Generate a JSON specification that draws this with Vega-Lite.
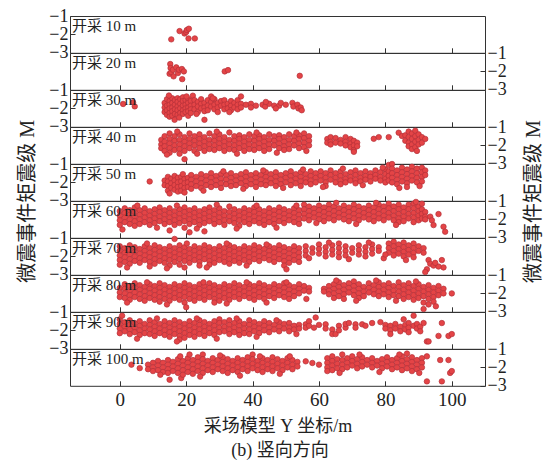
{
"$schema":"https://vega.github.io/schema/vega-lite/v6.json",
"padding":{"left":16,"top":6,"right":5,"bottom":5},
"background":"white",
"config":{
 "font":"Liberation Serif, Noto Sans CJK SC",
 "view":{"stroke":"#333","strokeWidth":1},
 "axis":{"domain":false,"grid":false,"tickSize":-5,"tickColor":"#333","labelFontSize":18,"labelColor":"#222","labelFont":"Liberation Serif","labelPadding":7,"labelOverlap":false,"labelFlush":false,"labelBound":false,"titleFont":"Liberation Serif, Noto Sans CJK SC","titleFontWeight":"normal","titleFontSize":18,"titleColor":"#222"},
 "axisX":{"labelPadding":10,"labelFontSize":19,"titlePadding":8},
 "title":{"font":"Liberation Serif, Noto Sans CJK SC","fontWeight":"normal","fontSize":18,"color":"#222"}
},
"title":{"text":"(b) 竖向方向","orient":"bottom","anchor":"middle","offset":6},
"datasets":{
"p10":[{"x":15.5,"m":-2.27},{"x":18,"m":-1.82},{"x":19.5,"m":-1.95},{"x":20,"m":-1.87},{"x":20.2,"m":-1.76},{"x":20.8,"m":-1.69},{"x":20.7,"m":-2.22},{"x":22.6,"m":-2.22}],
"p20":[{"x":15.2,"m":-1.6},{"x":15.3,"m":-1.82},{"x":15,"m":-2.13},{"x":15.5,"m":-2.05},{"x":16,"m":-1.91},{"x":16.2,"m":-2.27},{"x":17,"m":-1.78},{"x":17.5,"m":-2.09},{"x":17.8,"m":-1.91},{"x":18.7,"m":-1.87},{"x":19.3,"m":-2.0},{"x":18.8,"m":-2.42},{"x":31.6,"m":-2.0},{"x":32.6,"m":-1.93},{"x":54.2,"m":-2.24}],
"p30":[{"x":1,"m":-1.76},{"x":4,"m":-1.67},{"x":4.5,"m":-1.89},
{"x":13.5,"m":-1.7},{"x":13.5,"m":-1.95},{"x":13.5,"m":-2.2},
{"x":14.2,"m":-1.5},{"x":14.2,"m":-1.85},{"x":14.2,"m":-2.1},{"x":14.2,"m":-2.35},
{"x":15,"m":-1.6},{"x":15,"m":-1.8},{"x":15,"m":-2.0},{"x":15,"m":-2.25},{"x":15,"m":-2.45},
{"x":15.8,"m":-1.45},{"x":15.8,"m":-1.7},{"x":15.8,"m":-1.95},{"x":15.8,"m":-2.15},{"x":15.8,"m":-2.4},
{"x":16.6,"m":-1.55},{"x":16.6,"m":-1.8},{"x":16.6,"m":-2.05},{"x":16.6,"m":-2.3},{"x":16.5,"m":-2.62},
{"x":17.4,"m":-1.45},{"x":17.4,"m":-1.65},{"x":17.4,"m":-1.9},{"x":17.4,"m":-2.1},{"x":17.4,"m":-2.35},
{"x":18.2,"m":-1.5},{"x":18.2,"m":-1.75},{"x":18.2,"m":-2.0},{"x":18.2,"m":-2.25},
{"x":19,"m":-1.4},{"x":19,"m":-1.6},{"x":19,"m":-1.85},{"x":19,"m":-2.1},{"x":19,"m":-2.3},
{"x":19.8,"m":-1.55},{"x":19.8,"m":-1.8},{"x":19.8,"m":-2.0},{"x":19.8,"m":-2.2},
{"x":20.6,"m":-1.5},{"x":20.6,"m":-1.7},{"x":20.6,"m":-1.95},{"x":20.6,"m":-2.15},{"x":20.6,"m":-2.4},
{"x":21.4,"m":-1.6},{"x":21.4,"m":-1.85},{"x":21.4,"m":-2.05},{"x":21.4,"m":-2.25},
{"x":22,"m":-1.31},{"x":22.5,"m":-1.55},{"x":22.5,"m":-1.8},{"x":22.5,"m":-2.05},
{"x":23.5,"m":-1.65},{"x":23.5,"m":-1.9},{"x":23.5,"m":-2.2},
{"x":24.5,"m":-1.5},{"x":24.5,"m":-1.75},{"x":24.5,"m":-2.0},
{"x":25.5,"m":-1.7},{"x":25.5,"m":-1.95},{"x":25.5,"m":-2.15},{"x":25.5,"m":-2.62},
{"x":26.5,"m":-1.55},{"x":26.5,"m":-1.85},{"x":26.5,"m":-2.1},
{"x":27.5,"m":-1.35},{"x":27.5,"m":-1.65},{"x":27.5,"m":-1.9},
{"x":28.5,"m":-1.5},{"x":28.5,"m":-1.8},{"x":28.5,"m":-2.05},
{"x":29.5,"m":-1.7},{"x":29.5,"m":-1.95},{"x":29.5,"m":-2.2},
{"x":30.5,"m":-1.6},{"x":30.5,"m":-1.85},
{"x":31.5,"m":-1.55},{"x":31.5,"m":-1.8},{"x":31.5,"m":-2.05},
{"x":32.5,"m":-1.75},{"x":32.5,"m":-2.0},
{"x":33.5,"m":-1.6},{"x":33.5,"m":-1.85},{"x":33.5,"m":-2.1},
{"x":34.5,"m":-1.7},{"x":34.5,"m":-1.95},
{"x":35.5,"m":-1.55},{"x":35.5,"m":-1.8},{"x":35.5,"m":-2.05},
{"x":36.5,"m":-1.35},{"x":36.5,"m":-1.75},{"x":36.5,"m":-1.95},
{"x":38,"m":-1.8},{"x":39.5,"m":-1.75},{"x":39.5,"m":-1.95},{"x":41,"m":-1.85},{"x":43,"m":-1.8},{"x":43.8,"m":-1.9},{"x":45,"m":-1.75},{"x":46.5,"m":-1.85},{"x":48,"m":-1.85},{"x":48.5,"m":-1.7},{"x":50,"m":-1.8},{"x":52,"m":-1.7},{"x":52.3,"m":-1.9},{"x":53.5,"m":-1.8},{"x":53.8,"m":-2.0},{"x":54.5,"m":-1.95},{"x":54.8,"m":-2.1},
{"x":14.8,"m":-1.3},{"x":17.9,"m":-2.5},{"x":20.1,"m":-1.35},{"x":23.1,"m":-2.3},{"x":28,"m":-1.45},{"x":33,"m":-2.2},{"x":44,"m":-1.65},{"x":47,"m":-2.0}],
"p40":[
{"x":12.5,"m":-1.7},{"x":12.5,"m":-1.95},{"x":12.5,"m":-2.15},
{"x":13.5,"m":-1.5},{"x":13.5,"m":-1.8},{"x":13.5,"m":-2.05},{"x":13.5,"m":-2.3},
{"x":15,"m":-1.35},{"x":15,"m":-1.65},{"x":15,"m":-1.9},{"x":15,"m":-2.15},{"x":15,"m":-2.4},
{"x":16.5,"m":-1.5},{"x":16.5,"m":-1.75},{"x":16.5,"m":-2.0},{"x":16.5,"m":-2.25},
{"x":18,"m":-1.4},{"x":18,"m":-1.7},{"x":18,"m":-1.95},{"x":18,"m":-2.2},{"x":18,"m":-2.45},
{"x":19.5,"m":-1.55},{"x":19.5,"m":-1.8},{"x":19.5,"m":-2.05},{"x":19.5,"m":-2.3},{"x":19.5,"m":-2.75},
{"x":21,"m":-1.35},{"x":21,"m":-1.65},{"x":21,"m":-1.9},{"x":21,"m":-2.15},
{"x":22.5,"m":-1.5},{"x":22.5,"m":-1.75},{"x":22.5,"m":-2.0},{"x":22.5,"m":-2.3},
{"x":24,"m":-1.4},{"x":24,"m":-1.65},{"x":24,"m":-1.9},{"x":24,"m":-2.15},
{"x":25.5,"m":-1.55},{"x":25.5,"m":-1.8},{"x":25.5,"m":-2.05},{"x":25.5,"m":-2.3},
{"x":27,"m":-1.35},{"x":27,"m":-1.7},{"x":27,"m":-1.95},{"x":27,"m":-2.2},
{"x":28.5,"m":-1.5},{"x":28.5,"m":-1.75},{"x":28.5,"m":-2.0},{"x":28.5,"m":-2.25},
{"x":30,"m":-1.4},{"x":30,"m":-1.65},{"x":30,"m":-1.9},{"x":30,"m":-2.15},
{"x":31.5,"m":-1.55},{"x":31.5,"m":-1.8},{"x":31.5,"m":-2.05},{"x":31.5,"m":-2.3},
{"x":33,"m":-1.3},{"x":33,"m":-1.7},{"x":33,"m":-1.95},{"x":33,"m":-2.2},
{"x":34.5,"m":-1.5},{"x":34.5,"m":-1.75},{"x":34.5,"m":-2.0},{"x":34.5,"m":-2.25},
{"x":36,"m":-1.45},{"x":36,"m":-1.65},{"x":36,"m":-1.9},{"x":36,"m":-2.15},
{"x":37.5,"m":-1.55},{"x":37.5,"m":-1.8},{"x":37.5,"m":-2.05},{"x":37.5,"m":-2.3},
{"x":39,"m":-1.4},{"x":39,"m":-1.7},{"x":39,"m":-1.95},{"x":39,"m":-2.2},
{"x":40.5,"m":-1.5},{"x":40.5,"m":-1.75},{"x":40.5,"m":-2.0},{"x":40.5,"m":-2.25},
{"x":42,"m":-1.45},{"x":42,"m":-1.65},{"x":42,"m":-1.9},{"x":42,"m":-2.15},
{"x":43.5,"m":-1.55},{"x":43.5,"m":-1.8},{"x":43.5,"m":-2.05},{"x":43.5,"m":-2.3},
{"x":45,"m":-1.4},{"x":45,"m":-1.7},{"x":45,"m":-1.95},{"x":45,"m":-2.2},
{"x":46.5,"m":-1.5},{"x":46.5,"m":-1.75},{"x":46.5,"m":-2.0},
{"x":48,"m":-1.45},{"x":48,"m":-1.65},{"x":48,"m":-1.9},{"x":48,"m":-2.15},
{"x":49.5,"m":-1.55},{"x":49.5,"m":-1.8},{"x":49.5,"m":-2.05},{"x":49.5,"m":-2.25},
{"x":51,"m":-1.4},{"x":51,"m":-1.7},{"x":51,"m":-1.95},{"x":51,"m":-2.2},
{"x":52.5,"m":-1.5},{"x":52.5,"m":-1.75},{"x":52.5,"m":-2.0},
{"x":54,"m":-1.45},{"x":54,"m":-1.65},{"x":54,"m":-1.9},{"x":54,"m":-2.15},
{"x":55.5,"m":-1.35},{"x":55.5,"m":-1.6},{"x":55.5,"m":-1.85},{"x":55.5,"m":-2.1},
{"x":57,"m":-1.5},{"x":57,"m":-1.75},{"x":57,"m":-2.0},
{"x":62.5,"m":-1.65},{"x":62.5,"m":-1.85},
{"x":63.5,"m":-1.55},{"x":63.5,"m":-1.8},{"x":63.5,"m":-1.95},
{"x":65,"m":-1.6},{"x":65,"m":-1.85},
{"x":66.5,"m":-1.7},{"x":66.5,"m":-1.9},
{"x":68,"m":-1.55},{"x":68,"m":-1.8},{"x":68,"m":-2.0},
{"x":69.5,"m":-1.65},{"x":69.5,"m":-1.9},{"x":69.5,"m":-2.1},
{"x":70.5,"m":-1.75},{"x":70.5,"m":-2.0},{"x":70.5,"m":-2.25},{"x":70.5,"m":-2.35},
{"x":71.5,"m":-1.85},{"x":71.5,"m":-2.05},
{"x":76.5,"m":-1.64},{"x":78,"m":-1.55},{"x":81,"m":-1.55},{"x":84,"m":-1.31},{"x":85,"m":-1.49},
{"x":86,"m":-1.45},{"x":86,"m":-1.75},
{"x":87,"m":-1.25},{"x":87,"m":-1.55},{"x":87,"m":-1.85},{"x":87,"m":-2.05},
{"x":88,"m":-1.35},{"x":88,"m":-1.65},{"x":88,"m":-1.95},{"x":88,"m":-2.2},
{"x":89,"m":-1.2},{"x":89,"m":-1.5},{"x":89,"m":-1.8},{"x":89,"m":-2.1},
{"x":90,"m":-1.4},{"x":90,"m":-1.7},{"x":90,"m":-1.95},
{"x":91,"m":-1.55},{"x":91,"m":-1.85},{"x":92,"m":-1.65},
{"x":14.2,"m":-2.5},{"x":17.3,"m":-1.25},{"x":23.3,"m":-2.45},{"x":29.2,"m":-1.25},{"x":35.3,"m":-2.45},{"x":41.2,"m":-1.3},{"x":47.3,"m":-2.4},{"x":53.2,"m":-1.3},{"x":56.2,"m":-2.3},{"x":89.5,"m":-2.3}],
"p50":[{"x":9,"m":-1.95},
{"x":13.5,"m":-1.9},{"x":13.5,"m":-2.15},
{"x":14.5,"m":-1.7},{"x":14.5,"m":-1.95},{"x":14.5,"m":-2.2},{"x":14.5,"m":-2.45},
{"x":15.5,"m":-1.8},{"x":15.5,"m":-2.05},{"x":15.5,"m":-2.3},
{"x":16.5,"m":-1.65},{"x":16.5,"m":-1.9},{"x":16.5,"m":-2.15},{"x":16.5,"m":-2.4},
{"x":17.5,"m":-1.75},{"x":17.5,"m":-2.0},{"x":17.5,"m":-2.25},{"x":17.5,"m":-2.5},
{"x":18.5,"m":-1.7},{"x":18.5,"m":-1.95},{"x":18.5,"m":-2.2},{"x":18.5,"m":-2.45},
{"x":19.5,"m":-1.8},{"x":19.5,"m":-2.05},{"x":19.5,"m":-2.3},{"x":19.5,"m":-2.55},
{"x":20.5,"m":-1.75},{"x":20.5,"m":-2.0},{"x":20.5,"m":-2.25},
{"x":21.5,"m":-1.6},{"x":21.5,"m":-1.85},{"x":21.5,"m":-2.1},{"x":21.5,"m":-2.35},
{"x":23,"m":-1.7},{"x":23,"m":-1.95},{"x":23,"m":-2.2},
{"x":24.5,"m":-1.55},{"x":24.5,"m":-1.8},{"x":24.5,"m":-2.05},{"x":24.5,"m":-2.3},
{"x":26,"m":-1.65},{"x":26,"m":-1.9},{"x":26,"m":-2.15},
{"x":27.5,"m":-1.5},{"x":27.5,"m":-1.75},{"x":27.5,"m":-2.0},{"x":27.5,"m":-2.25},
{"x":29,"m":-1.65},{"x":29,"m":-1.9},{"x":29,"m":-2.15},
{"x":30.5,"m":-1.55},{"x":30.5,"m":-1.8},{"x":30.5,"m":-2.05},{"x":30.5,"m":-2.3},
{"x":32,"m":-1.6},{"x":32,"m":-1.85},{"x":32,"m":-2.1},
{"x":33.5,"m":-1.5},{"x":33.5,"m":-1.75},{"x":33.5,"m":-2.0},{"x":33.5,"m":-2.2},
{"x":35,"m":-1.65},{"x":35,"m":-1.9},{"x":35,"m":-2.15},
{"x":36.5,"m":-1.55},{"x":36.5,"m":-1.8},{"x":36.5,"m":-2.05},
{"x":38,"m":-1.45},{"x":38,"m":-1.7},{"x":38,"m":-1.95},{"x":38,"m":-2.2},
{"x":39.5,"m":-1.6},{"x":39.5,"m":-1.85},{"x":39.5,"m":-2.1},
{"x":41,"m":-1.5},{"x":41,"m":-1.75},{"x":41,"m":-2.0},{"x":41,"m":-2.25},
{"x":42.5,"m":-1.6},{"x":42.5,"m":-1.85},{"x":42.5,"m":-2.1},
{"x":44,"m":-1.45},{"x":44,"m":-1.7},{"x":44,"m":-1.95},{"x":44,"m":-2.15},
{"x":45.5,"m":-1.55},{"x":45.5,"m":-1.8},{"x":45.5,"m":-2.05},
{"x":47,"m":-1.45},{"x":47,"m":-1.7},{"x":47,"m":-1.95},{"x":47,"m":-2.2},
{"x":48.5,"m":-1.6},{"x":48.5,"m":-1.85},{"x":48.5,"m":-2.1},
{"x":50,"m":-1.5},{"x":50,"m":-1.75},{"x":50,"m":-2.0},
{"x":51.5,"m":-1.4},{"x":51.5,"m":-1.65},{"x":51.5,"m":-1.9},{"x":51.5,"m":-2.15},
{"x":53,"m":-1.55},{"x":53,"m":-1.8},{"x":53,"m":-2.05},
{"x":54.5,"m":-1.45},{"x":54.5,"m":-1.7},{"x":54.5,"m":-1.95},{"x":54.5,"m":-2.2},
{"x":56,"m":-1.55},{"x":56,"m":-1.8},{"x":56,"m":-2.0},
{"x":57.5,"m":-1.4},{"x":57.5,"m":-1.65},{"x":57.5,"m":-1.9},{"x":57.5,"m":-2.1},
{"x":59,"m":-1.5},{"x":59,"m":-1.75},{"x":59,"m":-2.0},
{"x":60.5,"m":-1.4},{"x":60.5,"m":-1.65},{"x":60.5,"m":-1.9},
{"x":62,"m":-1.5},{"x":62,"m":-1.75},{"x":62,"m":-2.0},{"x":62,"m":-2.2},
{"x":63.5,"m":-1.35},{"x":63.5,"m":-1.6},{"x":63.5,"m":-1.85},
{"x":65,"m":-1.5},{"x":65,"m":-1.75},{"x":65,"m":-2.0},
{"x":66.5,"m":-1.4},{"x":66.5,"m":-1.65},{"x":66.5,"m":-1.9},{"x":66.5,"m":-2.1},
{"x":68,"m":-1.55},{"x":68,"m":-1.8},{"x":68,"m":-2.0},
{"x":69.5,"m":-1.45},{"x":69.5,"m":-1.7},{"x":69.5,"m":-1.9},
{"x":71,"m":-1.35},{"x":71,"m":-1.6},{"x":71,"m":-1.85},{"x":71,"m":-2.05},
{"x":72.5,"m":-1.5},{"x":72.5,"m":-1.75},{"x":72.5,"m":-1.95},
{"x":74,"m":-1.4},{"x":74,"m":-1.65},{"x":74,"m":-1.85},
{"x":75.5,"m":-1.5},{"x":75.5,"m":-1.7},{"x":75.5,"m":-1.95},
{"x":77,"m":-1.35},{"x":77,"m":-1.6},{"x":77,"m":-1.8},
{"x":78.5,"m":-1.45},{"x":78.5,"m":-1.7},{"x":78.5,"m":-1.9},
{"x":80,"m":-1.3},{"x":80,"m":-1.55},{"x":80,"m":-1.8},{"x":80,"m":-2.0},
{"x":81,"m":-1.05},{"x":81,"m":-1.4},{"x":81,"m":-1.65},{"x":81,"m":-1.9},
{"x":82,"m":-1.0},{"x":82,"m":-1.25},{"x":82,"m":-1.5},{"x":82,"m":-1.75},{"x":82,"m":-2.0},
{"x":83.5,"m":-1.35},{"x":83.5,"m":-1.6},{"x":83.5,"m":-1.85},{"x":83.5,"m":-2.1},
{"x":85,"m":-1.2},{"x":85,"m":-1.45},{"x":85,"m":-1.7},{"x":85,"m":-1.95},
{"x":86.5,"m":-1.3},{"x":86.5,"m":-1.55},{"x":86.5,"m":-1.8},{"x":86.5,"m":-2.05},{"x":86.5,"m":-2.25},
{"x":88,"m":-1.15},{"x":88,"m":-1.4},{"x":88,"m":-1.65},{"x":88,"m":-1.9},
{"x":89.5,"m":-1.25},{"x":89.5,"m":-1.5},{"x":89.5,"m":-1.75},{"x":89.5,"m":-2.0},
{"x":91,"m":-1.2},{"x":91,"m":-1.45},{"x":91,"m":-1.7},{"x":91,"m":-1.95},
{"x":92,"m":-1.35},{"x":92,"m":-1.6},
{"x":15,"m":-2.6},{"x":19,"m":-1.55},{"x":25.2,"m":-2.45},{"x":31.2,"m":-1.4},{"x":37.2,"m":-2.35},{"x":43.2,"m":-1.35},{"x":49.2,"m":-2.3},{"x":55.2,"m":-1.3},{"x":61.2,"m":-2.25},{"x":67.2,"m":-1.25},{"x":73.2,"m":-2.15},{"x":79.2,"m":-1.2},{"x":84.2,"m":-2.3},{"x":90.3,"m":-2.2}],
"p60":[
{"x":0,"m":-1.55},{"x":0,"m":-1.8},{"x":0,"m":-2.05},{"x":0,"m":-2.3},
{"x":1.5,"m":-1.4},{"x":1.5,"m":-1.65},{"x":1.5,"m":-1.9},{"x":1.5,"m":-2.15},
{"x":3,"m":-1.5},{"x":3,"m":-1.75},{"x":3,"m":-2.0},{"x":3,"m":-2.25},
{"x":4.5,"m":-1.35},{"x":4.5,"m":-1.6},{"x":4.5,"m":-1.85},{"x":4.5,"m":-2.1},{"x":4.5,"m":-2.35},
{"x":6,"m":-1.5},{"x":6,"m":-1.75},{"x":6,"m":-2.0},{"x":6,"m":-2.25},
{"x":7.5,"m":-1.4},{"x":7.5,"m":-1.65},{"x":7.5,"m":-1.9},{"x":7.5,"m":-2.15},
{"x":9,"m":-1.55},{"x":9,"m":-1.8},{"x":9,"m":-2.05},{"x":9,"m":-2.3},
{"x":10.5,"m":-1.45},{"x":10.5,"m":-1.7},{"x":10.5,"m":-1.95},{"x":10.5,"m":-2.2},
{"x":12,"m":-1.35},{"x":12,"m":-1.6},{"x":12,"m":-1.85},{"x":12,"m":-2.1},
{"x":13.5,"m":-1.5},{"x":13.5,"m":-1.75},{"x":13.5,"m":-2.0},{"x":13.5,"m":-2.25},
{"x":15,"m":-1.4},{"x":15,"m":-1.65},{"x":15,"m":-1.9},{"x":15,"m":-2.15},{"x":15,"m":-2.6},
{"x":16.5,"m":-1.55},{"x":16.5,"m":-1.8},{"x":16.5,"m":-2.05},{"x":16.5,"m":-2.3},
{"x":18,"m":-1.45},{"x":18,"m":-1.7},{"x":18,"m":-1.95},{"x":18,"m":-2.2},
{"x":19.5,"m":-1.35},{"x":19.5,"m":-1.6},{"x":19.5,"m":-1.85},{"x":19.5,"m":-2.1},{"x":19.5,"m":-2.45},
{"x":21,"m":-1.5},{"x":21,"m":-1.75},{"x":21,"m":-2.0},{"x":21,"m":-2.25},{"x":21,"m":-2.7},
{"x":22.5,"m":-1.4},{"x":22.5,"m":-1.65},{"x":22.5,"m":-1.9},{"x":22.5,"m":-2.15},
{"x":24,"m":-1.55},{"x":24,"m":-1.8},{"x":24,"m":-2.05},{"x":24,"m":-2.3},
{"x":25.5,"m":-1.45},{"x":25.5,"m":-1.7},{"x":25.5,"m":-1.95},{"x":25.5,"m":-2.2},{"x":25.5,"m":-2.65},
{"x":27,"m":-1.35},{"x":27,"m":-1.6},{"x":27,"m":-1.85},{"x":27,"m":-2.1},
{"x":28.5,"m":-1.5},{"x":28.5,"m":-1.75},{"x":28.5,"m":-2.0},{"x":28.5,"m":-2.25},
{"x":30,"m":-1.4},{"x":30,"m":-1.65},{"x":30,"m":-1.9},{"x":30,"m":-2.15},
{"x":31.5,"m":-1.55},{"x":31.5,"m":-1.8},{"x":31.5,"m":-2.05},{"x":31.5,"m":-2.3},
{"x":33,"m":-1.3},{"x":33,"m":-1.6},{"x":33,"m":-1.85},{"x":33,"m":-2.1},
{"x":34.5,"m":-1.45},{"x":34.5,"m":-1.7},{"x":34.5,"m":-1.95},{"x":34.5,"m":-2.2},
{"x":36,"m":-1.55},{"x":36,"m":-1.8},{"x":36,"m":-2.05},{"x":36,"m":-2.35},
{"x":37.5,"m":-1.4},{"x":37.5,"m":-1.65},{"x":37.5,"m":-1.9},{"x":37.5,"m":-2.15},
{"x":39,"m":-1.5},{"x":39,"m":-1.75},{"x":39,"m":-2.0},{"x":39,"m":-2.25},
{"x":40.5,"m":-1.35},{"x":40.5,"m":-1.6},{"x":40.5,"m":-1.85},{"x":40.5,"m":-2.1},
{"x":42,"m":-1.45},{"x":42,"m":-1.7},{"x":42,"m":-1.95},{"x":42,"m":-2.2},
{"x":43.5,"m":-1.55},{"x":43.5,"m":-1.8},{"x":43.5,"m":-2.05},{"x":43.5,"m":-2.3},
{"x":45,"m":-1.4},{"x":45,"m":-1.65},{"x":45,"m":-1.9},{"x":45,"m":-2.15},
{"x":46.5,"m":-1.5},{"x":46.5,"m":-1.75},{"x":46.5,"m":-2.0},{"x":46.5,"m":-2.25},
{"x":48,"m":-1.35},{"x":48,"m":-1.6},{"x":48,"m":-1.85},{"x":48,"m":-2.1},
{"x":49.5,"m":-1.45},{"x":49.5,"m":-1.7},{"x":49.5,"m":-1.95},{"x":49.5,"m":-2.2},
{"x":51,"m":-1.55},{"x":51,"m":-1.8},{"x":51,"m":-2.05},
{"x":52.5,"m":-1.4},{"x":52.5,"m":-1.65},{"x":52.5,"m":-1.9},{"x":52.5,"m":-2.15},
{"x":54,"m":-1.5},{"x":54,"m":-1.75},{"x":54,"m":-2.0},{"x":54,"m":-2.25},
{"x":55.5,"m":-1.2},{"x":55.5,"m":-1.45},{"x":55.5,"m":-1.7},{"x":55.5,"m":-1.95},
{"x":57,"m":-1.3},{"x":57,"m":-1.55},{"x":57,"m":-1.8},{"x":57,"m":-2.05},
{"x":58.5,"m":-1.4},{"x":58.5,"m":-1.65},{"x":58.5,"m":-1.9},
{"x":60,"m":-1.25},{"x":60,"m":-1.5},{"x":60,"m":-1.75},{"x":60,"m":-2.0},
{"x":61.5,"m":-1.35},{"x":61.5,"m":-1.6},{"x":61.5,"m":-1.85},{"x":61.5,"m":-2.1},
{"x":63,"m":-1.2},{"x":63,"m":-1.45},{"x":63,"m":-1.7},{"x":63,"m":-1.95},
{"x":64.5,"m":-1.3},{"x":64.5,"m":-1.55},{"x":64.5,"m":-1.8},{"x":64.5,"m":-2.05},
{"x":66,"m":-1.4},{"x":66,"m":-1.65},{"x":66,"m":-1.9},
{"x":67.5,"m":-1.25},{"x":67.5,"m":-1.5},{"x":67.5,"m":-1.75},{"x":67.5,"m":-2.0},
{"x":69,"m":-1.35},{"x":69,"m":-1.6},{"x":69,"m":-1.85},{"x":69,"m":-2.1},
{"x":70.5,"m":-1.2},{"x":70.5,"m":-1.45},{"x":70.5,"m":-1.7},{"x":70.5,"m":-1.95},
{"x":72,"m":-1.3},{"x":72,"m":-1.55},{"x":72,"m":-1.8},{"x":72,"m":-2.05},
{"x":73.5,"m":-1.4},{"x":73.5,"m":-1.65},{"x":73.5,"m":-1.9},
{"x":75,"m":-1.25},{"x":75,"m":-1.5},{"x":75,"m":-1.75},{"x":75,"m":-2.0},
{"x":76.5,"m":-1.35},{"x":76.5,"m":-1.6},{"x":76.5,"m":-1.85},{"x":76.5,"m":-2.1},
{"x":78,"m":-1.2},{"x":78,"m":-1.45},{"x":78,"m":-1.7},{"x":78,"m":-1.95},
{"x":79.5,"m":-1.3},{"x":79.5,"m":-1.55},{"x":79.5,"m":-1.8},{"x":79.5,"m":-2.05},
{"x":81,"m":-1.15},{"x":81,"m":-1.4},{"x":81,"m":-1.65},{"x":81,"m":-1.9},
{"x":82.5,"m":-1.3},{"x":82.5,"m":-1.55},{"x":82.5,"m":-1.8},{"x":82.5,"m":-2.05},
{"x":84,"m":-1.2},{"x":84,"m":-1.45},{"x":84,"m":-1.7},{"x":84,"m":-1.95},{"x":84,"m":-2.15},
{"x":85.5,"m":-1.35},{"x":85.5,"m":-1.6},{"x":85.5,"m":-1.85},{"x":85.5,"m":-2.1},
{"x":87,"m":-1.2},{"x":87,"m":-1.45},{"x":87,"m":-1.7},{"x":87,"m":-1.95},
{"x":88.5,"m":-1.15},{"x":88.5,"m":-1.4},{"x":88.5,"m":-1.65},{"x":88.5,"m":-1.9},{"x":88.5,"m":-2.15},
{"x":90,"m":-1.3},{"x":90,"m":-1.55},{"x":90,"m":-1.8},{"x":90,"m":-2.05},
{"x":91,"m":-1.15},{"x":91,"m":-1.45},{"x":91,"m":-1.7},{"x":91,"m":-1.95},
{"x":92,"m":-1.6},{"x":92,"m":-1.85},{"x":92,"m":-2.0},
{"x":93.5,"m":-1.85},{"x":94,"m":-2.05},{"x":96,"m":-1.71},{"x":94.5,"m":-2.31},{"x":97.5,"m":-2.4},{"x":98,"m":-2.67},
{"x":0.8,"m":-2.55},{"x":5.3,"m":-1.25},{"x":11.2,"m":-2.45},{"x":17.2,"m":-1.25},{"x":23.2,"m":-2.5},{"x":29.2,"m":-1.2},{"x":35.2,"m":-2.5},{"x":41.2,"m":-1.25},{"x":47.2,"m":-2.45},{"x":53.2,"m":-1.25},{"x":59.2,"m":-2.2},{"x":65.2,"m":-1.1},{"x":71.2,"m":-2.25},{"x":77.2,"m":-1.1},{"x":83.2,"m":-2.3},{"x":89.2,"m":-1.05}],
"p70":[
{"x":0,"m":-1.45},{"x":0,"m":-1.7},{"x":0,"m":-1.95},{"x":0,"m":-2.2},{"x":0,"m":-2.45},
{"x":1.5,"m":-1.55},{"x":1.5,"m":-1.8},{"x":1.5,"m":-2.05},{"x":1.5,"m":-2.3},
{"x":3,"m":-1.4},{"x":3,"m":-1.65},{"x":3,"m":-1.9},{"x":3,"m":-2.15},{"x":3,"m":-2.4},
{"x":4.5,"m":-1.5},{"x":4.5,"m":-1.75},{"x":4.5,"m":-2.0},{"x":4.5,"m":-2.25},
{"x":6,"m":-1.6},{"x":6,"m":-1.85},{"x":6,"m":-2.1},{"x":6,"m":-2.35},
{"x":7.5,"m":-1.45},{"x":7.5,"m":-1.7},{"x":7.5,"m":-1.95},{"x":7.5,"m":-2.2},
{"x":9,"m":-1.55},{"x":9,"m":-1.8},{"x":9,"m":-2.05},{"x":9,"m":-2.3},{"x":9,"m":-2.55},
{"x":10.5,"m":-1.4},{"x":10.5,"m":-1.65},{"x":10.5,"m":-1.9},{"x":10.5,"m":-2.15},{"x":10.5,"m":-2.4},
{"x":12,"m":-1.5},{"x":12,"m":-1.75},{"x":12,"m":-2.0},{"x":12,"m":-2.25},
{"x":13.5,"m":-1.6},{"x":13.5,"m":-1.85},{"x":13.5,"m":-2.1},{"x":13.5,"m":-2.35},
{"x":15,"m":-1.45},{"x":15,"m":-1.7},{"x":15,"m":-1.95},{"x":15,"m":-2.2},{"x":15,"m":-2.5},
{"x":16.5,"m":-1.05},{"x":16.5,"m":-1.55},{"x":16.5,"m":-1.8},{"x":16.5,"m":-2.05},{"x":16.5,"m":-2.3},
{"x":18,"m":-1.4},{"x":18,"m":-1.65},{"x":18,"m":-1.9},{"x":18,"m":-2.15},{"x":18,"m":-2.45},
{"x":19.5,"m":-1.5},{"x":19.5,"m":-1.75},{"x":19.5,"m":-2.0},{"x":19.5,"m":-2.25},{"x":19.5,"m":-2.6},
{"x":21,"m":-1.6},{"x":21,"m":-1.85},{"x":21,"m":-2.1},{"x":21,"m":-2.35},
{"x":22.5,"m":-1.45},{"x":22.5,"m":-1.7},{"x":22.5,"m":-1.95},{"x":22.5,"m":-2.2},
{"x":24,"m":-1.55},{"x":24,"m":-1.8},{"x":24,"m":-2.05},{"x":24,"m":-2.3},{"x":24,"m":-2.5},
{"x":25.5,"m":-1.4},{"x":25.5,"m":-1.65},{"x":25.5,"m":-1.9},{"x":25.5,"m":-2.15},
{"x":27,"m":-1.5},{"x":27,"m":-1.75},{"x":27,"m":-2.0},{"x":27,"m":-2.25},{"x":27,"m":-2.45},
{"x":28.5,"m":-1.6},{"x":28.5,"m":-1.85},{"x":28.5,"m":-2.1},{"x":28.5,"m":-2.35},
{"x":30,"m":-1.45},{"x":30,"m":-1.7},{"x":30,"m":-1.95},{"x":30,"m":-2.2},
{"x":31.5,"m":-1.55},{"x":31.5,"m":-1.8},{"x":31.5,"m":-2.05},{"x":31.5,"m":-2.3},
{"x":33,"m":-1.4},{"x":33,"m":-1.65},{"x":33,"m":-1.9},{"x":33,"m":-2.15},{"x":33,"m":-2.4},
{"x":34.5,"m":-1.5},{"x":34.5,"m":-1.75},{"x":34.5,"m":-2.0},{"x":34.5,"m":-2.25},
{"x":36,"m":-1.6},{"x":36,"m":-1.85},{"x":36,"m":-2.1},{"x":36,"m":-2.35},
{"x":37.5,"m":-1.45},{"x":37.5,"m":-1.7},{"x":37.5,"m":-1.95},{"x":37.5,"m":-2.2},
{"x":39,"m":-1.55},{"x":39,"m":-1.8},{"x":39,"m":-2.05},{"x":39,"m":-2.3},
{"x":40.5,"m":-1.4},{"x":40.5,"m":-1.65},{"x":40.5,"m":-1.9},{"x":40.5,"m":-2.15},
{"x":42,"m":-1.5},{"x":42,"m":-1.75},{"x":42,"m":-2.0},{"x":42,"m":-2.25},
{"x":43.5,"m":-1.6},{"x":43.5,"m":-1.85},{"x":43.5,"m":-2.1},
{"x":45,"m":-1.45},{"x":45,"m":-1.7},{"x":45,"m":-1.95},{"x":45,"m":-2.2},
{"x":46.5,"m":-1.55},{"x":46.5,"m":-1.8},{"x":46.5,"m":-2.05},{"x":46.5,"m":-2.3},
{"x":48,"m":-1.4},{"x":48,"m":-1.65},{"x":48,"m":-1.9},{"x":48,"m":-2.15},
{"x":49.5,"m":-1.5},{"x":49.5,"m":-1.75},{"x":49.5,"m":-2.0},{"x":49.5,"m":-2.25},{"x":49.5,"m":-2.5},
{"x":51,"m":-1.6},{"x":51,"m":-1.85},{"x":51,"m":-2.1},{"x":51,"m":-2.35},
{"x":52.5,"m":-1.45},{"x":52.5,"m":-1.7},{"x":52.5,"m":-1.95},{"x":52.5,"m":-2.2},
{"x":54,"m":-1.55},{"x":54,"m":-1.8},{"x":54,"m":-2.05},{"x":54,"m":-2.3},
{"x":56,"m":-1.45},{"x":56,"m":-1.7},{"x":56,"m":-1.95},
{"x":58,"m":-1.55},{"x":58,"m":-1.8},
{"x":60,"m":-1.35},{"x":60,"m":-1.6},{"x":60,"m":-1.85},
{"x":62,"m":-1.5},{"x":62,"m":-1.75},{"x":62,"m":-2.0},
{"x":64,"m":-1.4},{"x":64,"m":-1.65},{"x":64,"m":-1.9},
{"x":66,"m":-1.3},{"x":66,"m":-1.55},{"x":66,"m":-1.8},{"x":66,"m":-2.05},
{"x":68,"m":-1.45},{"x":68,"m":-1.7},{"x":68,"m":-1.95},
{"x":70,"m":-1.55},{"x":70,"m":-1.8},
{"x":72,"m":-1.4},{"x":72,"m":-1.65},{"x":72,"m":-1.9},
{"x":74,"m":-1.5},{"x":74,"m":-1.75},{"x":74,"m":-2.0},
{"x":76,"m":-1.35},{"x":76,"m":-1.6},{"x":76,"m":-1.85},
{"x":78,"m":-1.5},{"x":78,"m":-1.7},{"x":79.5,"m":-2.1},
{"x":81,"m":-1.3},{"x":81,"m":-1.55},{"x":81,"m":-1.8},
{"x":82.5,"m":-1.2},{"x":82.5,"m":-1.45},{"x":82.5,"m":-1.7},{"x":82.5,"m":-1.95},
{"x":84,"m":-1.35},{"x":84,"m":-1.6},{"x":84,"m":-1.85},
{"x":85.5,"m":-1.25},{"x":85.5,"m":-1.5},{"x":85.5,"m":-1.75},{"x":85.5,"m":-2.0},
{"x":87,"m":-1.4},{"x":87,"m":-1.65},{"x":87,"m":-1.9},
{"x":88.5,"m":-1.3},{"x":88.5,"m":-1.55},{"x":88.5,"m":-1.8},{"x":88.5,"m":-2.05},
{"x":90,"m":-1.45},{"x":90,"m":-1.7},
{"x":91.5,"m":-1.55},{"x":91.5,"m":-1.8},
{"x":93,"m":-2.2},{"x":93.5,"m":-2.4},{"x":92.5,"m":-2.7},{"x":92,"m":-2.85},{"x":94.5,"m":-2.5},{"x":97,"m":-2.2},{"x":97.5,"m":-2.6},{"x":96,"m":-2.55},{"x":95,"m":-2.35},
{"x":2.2,"m":-2.6},{"x":8.2,"m":-1.3},{"x":14.2,"m":-2.65},{"x":20.2,"m":-1.3},{"x":26.2,"m":-2.6},{"x":32.2,"m":-1.3},{"x":38.2,"m":-2.5},{"x":44.2,"m":-1.35},{"x":50.2,"m":-2.7},{"x":57,"m":-2.1},{"x":63,"m":-1.25},{"x":69,"m":-2.15},{"x":75,"m":-1.25},{"x":80,"m":-1.9},{"x":86.2,"m":-2.2}],
"p80":[
{"x":0,"m":-1.7},{"x":0,"m":-1.95},{"x":0,"m":-2.2},
{"x":1.5,"m":-1.5},{"x":1.5,"m":-1.75},{"x":1.5,"m":-2.0},{"x":1.5,"m":-2.25},
{"x":3,"m":-1.6},{"x":3,"m":-1.85},{"x":3,"m":-2.1},{"x":3,"m":-2.35},
{"x":4.5,"m":-1.45},{"x":4.5,"m":-1.7},{"x":4.5,"m":-1.95},{"x":4.5,"m":-2.2},
{"x":6,"m":-1.55},{"x":6,"m":-1.8},{"x":6,"m":-2.05},{"x":6,"m":-2.3},
{"x":7.5,"m":-1.65},{"x":7.5,"m":-1.9},{"x":7.5,"m":-2.15},{"x":7.5,"m":-2.4},
{"x":9,"m":-1.5},{"x":9,"m":-1.75},{"x":9,"m":-2.0},{"x":9,"m":-2.25},
{"x":10.5,"m":-1.6},{"x":10.5,"m":-1.85},{"x":10.5,"m":-2.1},{"x":10.5,"m":-2.35},
{"x":12,"m":-1.45},{"x":12,"m":-1.7},{"x":12,"m":-1.95},{"x":12,"m":-2.2},{"x":12,"m":-2.45},
{"x":13.5,"m":-1.55},{"x":13.5,"m":-1.8},{"x":13.5,"m":-2.05},{"x":13.5,"m":-2.3},
{"x":15,"m":-1.65},{"x":15,"m":-1.9},{"x":15,"m":-2.15},{"x":15,"m":-2.4},
{"x":16.5,"m":-1.5},{"x":16.5,"m":-1.75},{"x":16.5,"m":-2.0},{"x":16.5,"m":-2.25},
{"x":18,"m":-1.6},{"x":18,"m":-1.85},{"x":18,"m":-2.1},{"x":18,"m":-2.35},
{"x":19.5,"m":-1.45},{"x":19.5,"m":-1.7},{"x":19.5,"m":-1.95},{"x":19.5,"m":-2.2},{"x":19.5,"m":-2.5},{"x":20,"m":-2.75},
{"x":21,"m":-1.55},{"x":21,"m":-1.8},{"x":21,"m":-2.05},{"x":21,"m":-2.3},
{"x":22.5,"m":-1.65},{"x":22.5,"m":-1.9},{"x":22.5,"m":-2.15},{"x":22.5,"m":-2.4},
{"x":24,"m":-1.5},{"x":24,"m":-1.75},{"x":24,"m":-2.0},{"x":24,"m":-2.25},
{"x":25.5,"m":-1.6},{"x":25.5,"m":-1.85},{"x":25.5,"m":-2.1},{"x":25.5,"m":-2.35},
{"x":27,"m":-1.45},{"x":27,"m":-1.7},{"x":27,"m":-1.95},{"x":27,"m":-2.2},
{"x":28.5,"m":-1.55},{"x":28.5,"m":-1.8},{"x":28.5,"m":-2.05},{"x":28.5,"m":-2.3},{"x":28.5,"m":-2.5},
{"x":30,"m":-1.65},{"x":30,"m":-1.9},{"x":30,"m":-2.15},{"x":30,"m":-2.4},
{"x":31.5,"m":-1.5},{"x":31.5,"m":-1.75},{"x":31.5,"m":-2.0},{"x":31.5,"m":-2.25},
{"x":33,"m":-1.6},{"x":33,"m":-1.85},{"x":33,"m":-2.1},{"x":33,"m":-2.35},
{"x":34.5,"m":-1.45},{"x":34.5,"m":-1.7},{"x":34.5,"m":-1.95},{"x":34.5,"m":-2.2},
{"x":36,"m":-1.55},{"x":36,"m":-1.8},{"x":36,"m":-2.05},{"x":36,"m":-2.3},
{"x":37.5,"m":-1.65},{"x":37.5,"m":-1.9},{"x":37.5,"m":-2.15},
{"x":39,"m":-1.5},{"x":39,"m":-1.75},{"x":39,"m":-2.0},{"x":39,"m":-2.25},
{"x":40.5,"m":-1.6},{"x":40.5,"m":-1.85},{"x":40.5,"m":-2.1},{"x":40.5,"m":-2.35},
{"x":42,"m":-1.45},{"x":42,"m":-1.7},{"x":42,"m":-1.95},{"x":42,"m":-2.2},
{"x":43.5,"m":-1.55},{"x":43.5,"m":-1.8},{"x":43.5,"m":-2.05},{"x":43.5,"m":-2.3},
{"x":45,"m":-1.65},{"x":45,"m":-1.9},{"x":45,"m":-2.15},
{"x":46.5,"m":-1.5},{"x":46.5,"m":-1.75},{"x":46.5,"m":-2.0},{"x":46.5,"m":-2.25},
{"x":48,"m":-1.6},{"x":48,"m":-1.85},{"x":48,"m":-2.1},
{"x":49.5,"m":-1.45},{"x":49.5,"m":-1.7},{"x":49.5,"m":-1.95},{"x":49.5,"m":-2.2},
{"x":51,"m":-1.55},{"x":51,"m":-1.8},{"x":51,"m":-2.05},{"x":51,"m":-2.3},
{"x":52.5,"m":-1.65},{"x":52.5,"m":-1.9},{"x":52.5,"m":-2.15},
{"x":54,"m":-1.5},{"x":54,"m":-1.75},{"x":54,"m":-2.0},
{"x":55.5,"m":-1.6},{"x":55.5,"m":-1.85},
{"x":57,"m":-1.7},{"x":57,"m":-1.9},
{"x":61.5,"m":-1.75},{"x":61.5,"m":-1.9},
{"x":63,"m":-1.6},{"x":63,"m":-1.85},{"x":63,"m":-2.05},
{"x":64.5,"m":-1.5},{"x":64.5,"m":-1.75},{"x":64.5,"m":-2.0},{"x":64.5,"m":-2.25},
{"x":66,"m":-1.4},{"x":66,"m":-1.65},{"x":66,"m":-1.9},{"x":66,"m":-2.15},
{"x":67.5,"m":-1.55},{"x":67.5,"m":-1.8},{"x":67.5,"m":-2.05},{"x":67.5,"m":-2.3},
{"x":69,"m":-1.45},{"x":69,"m":-1.7},{"x":69,"m":-1.95},
{"x":70.5,"m":-1.35},{"x":70.5,"m":-1.6},{"x":70.5,"m":-1.85},{"x":70.5,"m":-2.1},
{"x":72,"m":-1.5},{"x":72,"m":-1.75},{"x":72,"m":-2.0},{"x":72,"m":-2.25},
{"x":73.5,"m":-1.65},{"x":73.5,"m":-1.9},{"x":73.5,"m":-2.15},
{"x":75,"m":-1.45},{"x":75,"m":-1.7},{"x":75,"m":-1.95},
{"x":76.5,"m":-1.55},{"x":76.5,"m":-1.8},{"x":76.5,"m":-2.05},
{"x":78,"m":-1.4},{"x":78,"m":-1.65},{"x":78,"m":-1.9},{"x":78,"m":-2.15},
{"x":79.5,"m":-1.55},{"x":79.5,"m":-1.8},{"x":79.5,"m":-2.05},
{"x":81,"m":-1.45},{"x":81,"m":-1.7},{"x":81,"m":-1.95},{"x":81,"m":-2.2},
{"x":82.5,"m":-1.6},{"x":82.5,"m":-1.85},{"x":82.5,"m":-2.1},
{"x":84,"m":-1.4},{"x":84,"m":-1.65},{"x":84,"m":-1.9},{"x":84,"m":-2.15},
{"x":85.5,"m":-1.55},{"x":85.5,"m":-1.8},{"x":85.5,"m":-2.05},{"x":85.5,"m":-2.3},
{"x":87,"m":-1.45},{"x":87,"m":-1.7},{"x":87,"m":-1.95},{"x":87,"m":-2.2},
{"x":88.5,"m":-1.6},{"x":88.5,"m":-1.85},{"x":88.5,"m":-2.1},{"x":88.5,"m":-2.35},
{"x":90,"m":-1.5},{"x":90,"m":-1.75},{"x":90,"m":-2.0},{"x":90,"m":-2.25},
{"x":91.5,"m":-1.65},{"x":91.5,"m":-1.9},{"x":91.5,"m":-2.15},{"x":91.5,"m":-2.5},{"x":91.5,"m":-2.85},
{"x":93,"m":-1.55},{"x":93,"m":-1.8},{"x":93,"m":-2.05},{"x":93,"m":-2.3},{"x":93,"m":-2.6},
{"x":94.5,"m":-1.7},{"x":94.5,"m":-1.95},{"x":94.5,"m":-2.2},{"x":94.5,"m":-2.45},
{"x":96,"m":-1.6},{"x":96,"m":-1.85},{"x":96,"m":-2.1},
{"x":97.5,"m":-1.75},{"x":97.5,"m":-2.0},{"x":100,"m":-2.0},
{"x":2.2,"m":-2.5},{"x":8.2,"m":-1.4},{"x":14.2,"m":-2.6},{"x":25.2,"m":-1.4},{"x":32.2,"m":-2.55},{"x":38.2,"m":-1.4},{"x":44.2,"m":-2.5},{"x":50.2,"m":-1.4},{"x":56.2,"m":-2.3},{"x":65.2,"m":-1.3},{"x":71.2,"m":-2.4},{"x":77.2,"m":-1.3},{"x":83.2,"m":-2.4},{"x":89.2,"m":-1.35},{"x":95.2,"m":-2.7}],
"p90":[
{"x":0,"m":-1.4},{"x":0,"m":-1.65},{"x":0,"m":-1.9},{"x":0,"m":-2.15},
{"x":1.5,"m":-1.55},{"x":1.5,"m":-1.8},{"x":1.5,"m":-2.05},
{"x":3,"m":-1.45},{"x":3,"m":-1.7},{"x":3,"m":-1.95},{"x":3,"m":-2.2},
{"x":4.5,"m":-1.6},{"x":4.5,"m":-1.85},{"x":4.5,"m":-2.1},
{"x":6,"m":-1.5},{"x":6,"m":-1.75},{"x":6,"m":-2.0},{"x":6,"m":-2.25},
{"x":7.5,"m":-1.65},{"x":7.5,"m":-1.9},{"x":7.5,"m":-2.15},
{"x":9,"m":-1.45},{"x":9,"m":-1.7},{"x":9,"m":-1.95},{"x":9,"m":-2.2},
{"x":10.5,"m":-1.55},{"x":10.5,"m":-1.8},{"x":10.5,"m":-2.05},{"x":10.5,"m":-2.3},
{"x":12,"m":-1.65},{"x":12,"m":-1.9},{"x":12,"m":-2.15},
{"x":13.5,"m":-1.5},{"x":13.5,"m":-1.75},{"x":13.5,"m":-2.0},{"x":13.5,"m":-2.25},
{"x":15,"m":-1.6},{"x":15,"m":-1.85},{"x":15,"m":-2.1},{"x":15,"m":-2.35},
{"x":16.5,"m":-1.45},{"x":16.5,"m":-1.7},{"x":16.5,"m":-1.95},{"x":16.5,"m":-2.2},
{"x":18,"m":-1.55},{"x":18,"m":-1.8},{"x":18,"m":-2.05},{"x":18,"m":-2.3},{"x":18,"m":-2.5},
{"x":19.5,"m":-1.65},{"x":19.5,"m":-1.9},{"x":19.5,"m":-2.15},{"x":19.5,"m":-2.4},
{"x":21,"m":-1.5},{"x":21,"m":-1.75},{"x":21,"m":-2.0},{"x":21,"m":-2.25},
{"x":22.5,"m":-1.6},{"x":22.5,"m":-1.85},{"x":22.5,"m":-2.1},{"x":22.5,"m":-2.35},
{"x":24,"m":-1.45},{"x":24,"m":-1.7},{"x":24,"m":-1.95},{"x":24,"m":-2.2},
{"x":25.5,"m":-1.55},{"x":25.5,"m":-1.8},{"x":25.5,"m":-2.05},{"x":25.5,"m":-2.3},
{"x":27,"m":-1.65},{"x":27,"m":-1.9},{"x":27,"m":-2.15},
{"x":28.5,"m":-1.5},{"x":28.5,"m":-1.75},{"x":28.5,"m":-2.0},{"x":28.5,"m":-2.25},
{"x":30,"m":-1.4},{"x":30,"m":-1.6},{"x":30,"m":-1.85},{"x":30,"m":-2.1},
{"x":31.5,"m":-1.55},{"x":31.5,"m":-1.8},{"x":31.5,"m":-2.05},
{"x":33,"m":-1.45},{"x":33,"m":-1.7},{"x":33,"m":-1.95},{"x":33,"m":-2.2},
{"x":34.5,"m":-1.6},{"x":34.5,"m":-1.85},{"x":34.5,"m":-2.1},
{"x":36,"m":-1.5},{"x":36,"m":-1.75},{"x":36,"m":-2.0},{"x":36,"m":-2.25},
{"x":37.5,"m":-1.65},{"x":37.5,"m":-1.9},{"x":37.5,"m":-2.15},
{"x":39,"m":-1.45},{"x":39,"m":-1.7},{"x":39,"m":-1.95},{"x":39,"m":-2.2},
{"x":40.5,"m":-1.55},{"x":40.5,"m":-1.8},{"x":40.5,"m":-2.05},
{"x":42,"m":-1.65},{"x":42,"m":-1.9},{"x":42,"m":-2.15},
{"x":43.5,"m":-1.5},{"x":43.5,"m":-1.75},{"x":43.5,"m":-2.0},
{"x":45,"m":-1.6},{"x":45,"m":-1.85},{"x":45,"m":-2.1},
{"x":46.5,"m":-1.7},{"x":46.5,"m":-1.95},
{"x":48,"m":-1.55},{"x":48,"m":-1.8},{"x":48,"m":-2.05},
{"x":49.5,"m":-1.65},{"x":49.5,"m":-1.9},
{"x":51,"m":-1.6},{"x":51,"m":-1.85},{"x":51,"m":-2.05},
{"x":52.5,"m":-1.75},{"x":52.5,"m":-1.95},
{"x":54,"m":-1.7},{"x":54,"m":-1.9},
{"x":56,"m":-1.67},{"x":56,"m":-1.85},{"x":57,"m":-1.5},{"x":57,"m":-1.75},{"x":59,"m":-1.3},{"x":58.5,"m":-1.85},
{"x":62,"m":-1.67},{"x":62,"m":-1.9},{"x":64,"m":-1.95},{"x":64,"m":-2.2},{"x":65,"m":-2.2},{"x":66,"m":-1.75},{"x":66,"m":-2.0},
{"x":68,"m":-1.85},{"x":68,"m":-1.65},{"x":69,"m":-1.6},{"x":71,"m":-1.67},{"x":71,"m":-1.85},{"x":73,"m":-1.67},{"x":74,"m":-1.75},
{"x":78.5,"m":-1.55},{"x":80,"m":-1.7},{"x":80,"m":-1.9},{"x":81.5,"m":-1.75},{"x":81.5,"m":-2.0},{"x":81.5,"m":-2.2},
{"x":83,"m":-1.65},{"x":83,"m":-1.9},{"x":84.5,"m":-1.8},{"x":84.5,"m":-2.05},{"x":86,"m":-1.7},{"x":86,"m":-1.95},
{"x":87,"m":-1.6},{"x":87,"m":-1.85},{"x":87,"m":-2.1},{"x":88.5,"m":-1.2},{"x":88.5,"m":-1.75},
{"x":89.5,"m":-1.65},{"x":89.5,"m":-1.9},{"x":90.5,"m":-1.8},{"x":90.5,"m":-2.05},{"x":91.5,"m":-1.6},
{"x":92.5,"m":-2.6},{"x":93,"m":-2.6},{"x":96,"m":-2.3},{"x":97,"m":-1.6},{"x":99,"m":-2.3},{"x":100,"m":-2.2},
{"x":0.7,"m":-1.2},{"x":5.2,"m":-2.45},{"x":11.2,"m":-1.35},{"x":17.2,"m":-2.6},{"x":23.2,"m":-1.35},{"x":29.2,"m":-2.45},{"x":35.2,"m":-1.35},{"x":41.2,"m":-2.35},{"x":47.2,"m":-1.45},{"x":53.2,"m":-2.2},{"x":60,"m":-1.7},{"x":76,"m":-1.6},{"x":85.5,"m":-1.4}],
"p100":[{"x":3.5,"m":-1.85},{"x":6,"m":-2.04},
{"x":8.5,"m":-1.85},{"x":8.5,"m":-2.1},
{"x":10,"m":-1.75},{"x":10,"m":-2.0},{"x":10,"m":-2.2},
{"x":11.5,"m":-1.65},{"x":11.5,"m":-1.9},{"x":11.5,"m":-2.15},
{"x":13,"m":-1.75},{"x":13,"m":-2.0},{"x":13,"m":-2.25},
{"x":14.5,"m":-1.6},{"x":14.5,"m":-1.85},{"x":14.5,"m":-2.1},{"x":14.5,"m":-2.3},{"x":15,"m":-2.67},
{"x":16,"m":-1.7},{"x":16,"m":-1.95},{"x":16,"m":-2.2},
{"x":17.5,"m":-1.55},{"x":17.5,"m":-1.8},{"x":17.5,"m":-2.05},{"x":17.5,"m":-2.3},{"x":18.5,"m":-2.58},
{"x":19,"m":-1.65},{"x":19,"m":-1.9},{"x":19,"m":-2.15},{"x":19,"m":-2.4},
{"x":20.5,"m":-1.5},{"x":20.5,"m":-1.75},{"x":20.5,"m":-2.0},{"x":20.5,"m":-2.25},{"x":21,"m":-1.3},
{"x":22,"m":-1.6},{"x":22,"m":-1.85},{"x":22,"m":-2.1},{"x":22,"m":-2.35},
{"x":23.5,"m":-1.45},{"x":23.5,"m":-1.7},{"x":23.5,"m":-1.95},{"x":23.5,"m":-2.2},
{"x":25,"m":-1.3},{"x":25,"m":-1.55},{"x":25,"m":-1.8},{"x":25,"m":-2.05},{"x":25,"m":-2.3},
{"x":26.5,"m":-1.65},{"x":26.5,"m":-1.9},{"x":26.5,"m":-2.15},
{"x":28,"m":-1.5},{"x":28,"m":-1.75},{"x":28,"m":-2.0},{"x":28,"m":-2.25},
{"x":29.5,"m":-1.6},{"x":29.5,"m":-1.85},{"x":29.5,"m":-2.1},
{"x":31,"m":-1.45},{"x":31,"m":-1.7},{"x":31,"m":-1.95},{"x":31,"m":-2.2},
{"x":32.5,"m":-1.55},{"x":32.5,"m":-1.8},{"x":32.5,"m":-2.05},{"x":32.5,"m":-2.3},
{"x":34,"m":-1.65},{"x":34,"m":-1.9},{"x":34,"m":-2.15},
{"x":35.5,"m":-1.5},{"x":35.5,"m":-1.75},{"x":35.5,"m":-2.0},{"x":35.5,"m":-2.25},
{"x":37,"m":-1.6},{"x":37,"m":-1.85},{"x":37,"m":-2.1},
{"x":38.5,"m":-1.45},{"x":38.5,"m":-1.7},{"x":38.5,"m":-1.95},{"x":38.5,"m":-2.2},
{"x":40,"m":-1.3},{"x":40,"m":-1.55},{"x":40,"m":-1.8},{"x":40,"m":-2.05},
{"x":41.5,"m":-1.65},{"x":41.5,"m":-1.9},{"x":41.5,"m":-2.15},
{"x":43,"m":-1.5},{"x":43,"m":-1.75},{"x":43,"m":-2.0},{"x":43,"m":-2.25},
{"x":44.5,"m":-1.6},{"x":44.5,"m":-1.85},{"x":44.5,"m":-2.1},
{"x":46,"m":-1.45},{"x":46,"m":-1.7},{"x":46,"m":-1.95},{"x":46,"m":-2.2},
{"x":47.5,"m":-1.55},{"x":47.5,"m":-1.8},{"x":47.5,"m":-2.05},
{"x":49,"m":-1.65},{"x":49,"m":-1.9},{"x":49,"m":-2.15},
{"x":50.5,"m":-1.5},{"x":50.5,"m":-1.75},{"x":50.5,"m":-2.0},
{"x":52,"m":-1.6},{"x":52,"m":-1.85},{"x":52,"m":-2.1},
{"x":53.5,"m":-1.7},{"x":53.5,"m":-1.95},
{"x":56,"m":-1.67},{"x":58,"m":-1.76},{"x":60,"m":-1.85},
{"x":62.5,"m":-1.5},{"x":62.5,"m":-1.75},{"x":62.5,"m":-2.0},{"x":62.5,"m":-2.2},
{"x":64,"m":-1.4},{"x":64,"m":-1.65},{"x":64,"m":-1.9},{"x":64,"m":-2.15},
{"x":65.5,"m":-1.55},{"x":65.5,"m":-1.8},{"x":65.5,"m":-2.05},
{"x":67,"m":-1.3},{"x":67,"m":-1.6},{"x":67,"m":-1.85},{"x":67,"m":-2.1},
{"x":68.5,"m":-1.5},{"x":68.5,"m":-1.75},{"x":68.5,"m":-2.0},
{"x":70,"m":-1.4},{"x":70,"m":-1.65},{"x":70,"m":-1.9},
{"x":71.5,"m":-1.55},{"x":71.5,"m":-1.8},{"x":71.5,"m":-2.05},
{"x":73,"m":-1.45},{"x":73,"m":-1.7},{"x":73,"m":-1.95},
{"x":74.5,"m":-1.6},{"x":74.5,"m":-1.85},
{"x":76,"m":-1.5},{"x":76,"m":-1.75},{"x":76,"m":-2.0},
{"x":77.5,"m":-1.65},{"x":77.5,"m":-1.9},
{"x":79,"m":-1.55},{"x":79,"m":-1.8},{"x":79,"m":-2.05},
{"x":80.5,"m":-1.45},{"x":80.5,"m":-1.7},{"x":80.5,"m":-1.95},
{"x":82,"m":-1.6},{"x":82,"m":-1.85},{"x":82,"m":-2.1},
{"x":83.5,"m":-1.5},{"x":83.5,"m":-1.75},{"x":83.5,"m":-2.0},
{"x":85,"m":-1.4},{"x":85,"m":-1.65},{"x":85,"m":-1.9},{"x":85,"m":-2.15},
{"x":86.5,"m":-1.25},{"x":86.5,"m":-1.55},{"x":86.5,"m":-1.8},{"x":86.5,"m":-2.05},
{"x":88,"m":-1.45},{"x":88,"m":-1.7},{"x":88,"m":-1.95},{"x":88,"m":-2.2},
{"x":89.5,"m":-1.6},{"x":89.5,"m":-1.85},{"x":89.5,"m":-2.1},
{"x":91,"m":-1.5},{"x":91,"m":-1.75},{"x":91,"m":-2.0},
{"x":92.5,"m":-1.4},{"x":92.5,"m":-2.76},
{"x":96.5,"m":-1.6},{"x":97,"m":-2.76},{"x":99,"m":-1.6},{"x":99.5,"m":-2.3},{"x":100,"m":-2.2},
{"x":12.2,"m":-2.4},{"x":18.2,"m":-1.4},{"x":24.2,"m":-2.5},{"x":30.2,"m":-1.35},{"x":36.2,"m":-2.45},{"x":42.2,"m":-1.4},{"x":48.2,"m":-2.35},{"x":51.2,"m":-1.4},{"x":66.2,"m":-2.3},{"x":72.2,"m":-1.3},{"x":78.2,"m":-2.25},{"x":84.2,"m":-1.3},{"x":90.2,"m":-2.3}]
},
"spacing":0,
"bounds":"flush",
"resolve":{"scale":{"x":"independent","y":"independent"},"axis":{"x":"independent","y":"independent"}},
"vconcat":[
{"width":415,"height":36.8,"layer":[
 {"data":{"name":"p10"},"mark":{"type":"circle","size":30,"fill":"#e44446","stroke":"#b5303a","strokeWidth":0.7,"opacity":1},
  "encoding":{"x":{"field":"x","type":"quantitative","scale":{"domain":[-15,110],"nice":false},"axis":{"values":[0,20,40,60,80,100],"labels":false,"title":null}},
   "y":{"field":"m","type":"quantitative","scale":{"domain":[-3,-1],"nice":false,"zero":false},"axis":{"orient":"left","values":[-1,-2,-3],"tickCount":5,"labelExpr":"datum.value > -1.5 ? '−1' : datum.value > -2.5 ? '−2' : '−3'","labelOverlap":false,"title":null}}}},
 {"data":{"values":[{"t":"开采 10 m"}]},"mark":{"type":"text","align":"left","baseline":"alphabetic","fontSize":15,"color":"#222"},
  "encoding":{"x":{"datum":-14.4},"y":{"datum":-1.815},"text":{"field":"t"}}}]},
{"width":415,"height":36.8,"layer":[
 {"data":{"name":"p20"},"mark":{"type":"circle","size":30,"fill":"#e44446","stroke":"#b5303a","strokeWidth":0.7,"opacity":1},
  "encoding":{"x":{"field":"x","type":"quantitative","scale":{"domain":[-15,110],"nice":false},"axis":{"values":[0,20,40,60,80,100],"labels":false,"title":null}},
   "y":{"field":"m","type":"quantitative","scale":{"domain":[-3,-1],"nice":false,"zero":false},"axis":{"orient":"right","values":[-1,-2,-3],"tickCount":5,"labelExpr":"datum.value > -1.5 ? '−1' : datum.value > -2.5 ? '−2' : '−3'","labelOverlap":false,"title":null}}}},
 {"data":{"values":[{"t":"开采 20 m"}]},"mark":{"type":"text","align":"left","baseline":"alphabetic","fontSize":15,"color":"#222"},
  "encoding":{"x":{"datum":-14.4},"y":{"datum":-1.815},"text":{"field":"t"}}}]},
{"width":415,"height":36.8,"layer":[
 {"data":{"name":"p30"},"mark":{"type":"circle","size":30,"fill":"#e44446","stroke":"#b5303a","strokeWidth":0.7,"opacity":1},
  "encoding":{"x":{"field":"x","type":"quantitative","scale":{"domain":[-15,110],"nice":false},"axis":{"values":[0,20,40,60,80,100],"labels":false,"title":null}},
   "y":{"field":"m","type":"quantitative","scale":{"domain":[-3,-1],"nice":false,"zero":false},"axis":{"orient":"left","values":[-1,-2,-3],"tickCount":5,"labelExpr":"datum.value > -1.5 ? '−1' : datum.value > -2.5 ? '−2' : '−3'","labelOverlap":false,"title":null}}}},
 {"data":{"values":[{"t":"开采 30 m"}]},"mark":{"type":"text","align":"left","baseline":"alphabetic","fontSize":15,"color":"#222"},
  "encoding":{"x":{"datum":-14.4},"y":{"datum":-1.815},"text":{"field":"t"}}}]},
{"width":415,"height":36.8,"layer":[
 {"data":{"name":"p40"},"mark":{"type":"circle","size":30,"fill":"#e44446","stroke":"#b5303a","strokeWidth":0.7,"opacity":1},
  "encoding":{"x":{"field":"x","type":"quantitative","scale":{"domain":[-15,110],"nice":false},"axis":{"values":[0,20,40,60,80,100],"labels":false,"title":null}},
   "y":{"field":"m","type":"quantitative","scale":{"domain":[-3,-1],"nice":false,"zero":false},"axis":{"orient":"right","values":[-1,-2,-3],"tickCount":5,"labelExpr":"datum.value > -1.5 ? '−1' : datum.value > -2.5 ? '−2' : '−3'","labelOverlap":false,"title":null}}}},
 {"data":{"values":[{"t":"开采 40 m"}]},"mark":{"type":"text","align":"left","baseline":"alphabetic","fontSize":15,"color":"#222"},
  "encoding":{"x":{"datum":-14.4},"y":{"datum":-1.815},"text":{"field":"t"}}}]},
{"width":415,"height":36.8,"layer":[
 {"data":{"name":"p50"},"mark":{"type":"circle","size":30,"fill":"#e44446","stroke":"#b5303a","strokeWidth":0.7,"opacity":1},
  "encoding":{"x":{"field":"x","type":"quantitative","scale":{"domain":[-15,110],"nice":false},"axis":{"values":[0,20,40,60,80,100],"labels":false,"title":null}},
   "y":{"field":"m","type":"quantitative","scale":{"domain":[-3,-1],"nice":false,"zero":false},"axis":{"orient":"left","values":[-1,-2,-3],"tickCount":5,"labelExpr":"datum.value > -1.5 ? '−1' : datum.value > -2.5 ? '−2' : '−3'","labelOverlap":false,"title":"微震事件矩震级 M","titleFontSize":20,"titleX":-43,"titleY":36.8,"titleAngle":270,"titleAlign":"center","titleBaseline":"middle"}}}},
 {"data":{"values":[{"t":"开采 50 m"}]},"mark":{"type":"text","align":"left","baseline":"alphabetic","fontSize":15,"color":"#222"},
  "encoding":{"x":{"datum":-14.4},"y":{"datum":-1.815},"text":{"field":"t"}}}]},
{"width":415,"height":36.8,"layer":[
 {"data":{"name":"p60"},"mark":{"type":"circle","size":30,"fill":"#e44446","stroke":"#b5303a","strokeWidth":0.7,"opacity":1},
  "encoding":{"x":{"field":"x","type":"quantitative","scale":{"domain":[-15,110],"nice":false},"axis":{"values":[0,20,40,60,80,100],"labels":false,"title":null}},
   "y":{"field":"m","type":"quantitative","scale":{"domain":[-3,-1],"nice":false,"zero":false},"axis":{"orient":"right","values":[-1,-2,-3],"tickCount":5,"labelExpr":"datum.value > -1.5 ? '−1' : datum.value > -2.5 ? '−2' : '−3'","labelOverlap":false,"title":"微震事件矩震级 M","titleFontSize":20,"titleX":48,"titleY":0,"titleAngle":270,"titleAlign":"center","titleBaseline":"middle"}}}},
 {"data":{"values":[{"t":"开采 60 m"}]},"mark":{"type":"text","align":"left","baseline":"alphabetic","fontSize":15,"color":"#222"},
  "encoding":{"x":{"datum":-14.4},"y":{"datum":-1.815},"text":{"field":"t"}}}]},
{"width":415,"height":36.8,"layer":[
 {"data":{"name":"p70"},"mark":{"type":"circle","size":30,"fill":"#e44446","stroke":"#b5303a","strokeWidth":0.7,"opacity":1},
  "encoding":{"x":{"field":"x","type":"quantitative","scale":{"domain":[-15,110],"nice":false},"axis":{"values":[0,20,40,60,80,100],"labels":false,"title":null}},
   "y":{"field":"m","type":"quantitative","scale":{"domain":[-3,-1],"nice":false,"zero":false},"axis":{"orient":"left","values":[-1,-2,-3],"tickCount":5,"labelExpr":"datum.value > -1.5 ? '−1' : datum.value > -2.5 ? '−2' : '−3'","labelOverlap":false,"title":null}}}},
 {"data":{"values":[{"t":"开采 70 m"}]},"mark":{"type":"text","align":"left","baseline":"alphabetic","fontSize":15,"color":"#222"},
  "encoding":{"x":{"datum":-14.4},"y":{"datum":-1.815},"text":{"field":"t"}}}]},
{"width":415,"height":36.8,"layer":[
 {"data":{"name":"p80"},"mark":{"type":"circle","size":30,"fill":"#e44446","stroke":"#b5303a","strokeWidth":0.7,"opacity":1},
  "encoding":{"x":{"field":"x","type":"quantitative","scale":{"domain":[-15,110],"nice":false},"axis":{"values":[0,20,40,60,80,100],"labels":false,"title":null}},
   "y":{"field":"m","type":"quantitative","scale":{"domain":[-3,-1],"nice":false,"zero":false},"axis":{"orient":"right","values":[-1,-2,-3],"tickCount":5,"labelExpr":"datum.value > -1.5 ? '−1' : datum.value > -2.5 ? '−2' : '−3'","labelOverlap":false,"title":null}}}},
 {"data":{"values":[{"t":"开采 80 m"}]},"mark":{"type":"text","align":"left","baseline":"alphabetic","fontSize":15,"color":"#222"},
  "encoding":{"x":{"datum":-14.4},"y":{"datum":-1.815},"text":{"field":"t"}}}]},
{"width":415,"height":36.8,"layer":[
 {"data":{"name":"p90"},"mark":{"type":"circle","size":30,"fill":"#e44446","stroke":"#b5303a","strokeWidth":0.7,"opacity":1},
  "encoding":{"x":{"field":"x","type":"quantitative","scale":{"domain":[-15,110],"nice":false},"axis":{"values":[0,20,40,60,80,100],"labels":false,"title":null}},
   "y":{"field":"m","type":"quantitative","scale":{"domain":[-3,-1],"nice":false,"zero":false},"axis":{"orient":"left","values":[-1,-2,-3],"tickCount":5,"labelExpr":"datum.value > -1.5 ? '−1' : datum.value > -2.5 ? '−2' : '−3'","labelOverlap":false,"title":null}}}},
 {"data":{"values":[{"t":"开采 90 m"}]},"mark":{"type":"text","align":"left","baseline":"alphabetic","fontSize":15,"color":"#222"},
  "encoding":{"x":{"datum":-14.4},"y":{"datum":-1.815},"text":{"field":"t"}}}]},
{"width":415,"height":36.8,"layer":[
 {"data":{"name":"p100"},"mark":{"type":"circle","size":30,"fill":"#e44446","stroke":"#b5303a","strokeWidth":0.7,"opacity":1},
  "encoding":{"x":{"field":"x","type":"quantitative","scale":{"domain":[-15,110],"nice":false},"axis":{"values":[0,20,40,60,80,100],"labels":true,"labelOverlap":false,"title":"采场模型 Y 坐标/m"}},
   "y":{"field":"m","type":"quantitative","scale":{"domain":[-3,-1],"nice":false,"zero":false},"axis":{"orient":"right","values":[-1,-2,-3],"tickCount":5,"labelExpr":"datum.value > -1.5 ? '−1' : datum.value > -2.5 ? '−2' : '−3'","labelOverlap":false,"title":null}}}},
 {"data":{"values":[{"t":"开采 100 m"}]},"mark":{"type":"text","align":"left","baseline":"alphabetic","fontSize":15,"color":"#222"},
  "encoding":{"x":{"datum":-14.4},"y":{"datum":-1.815},"text":{"field":"t"}}}]}
]
}
